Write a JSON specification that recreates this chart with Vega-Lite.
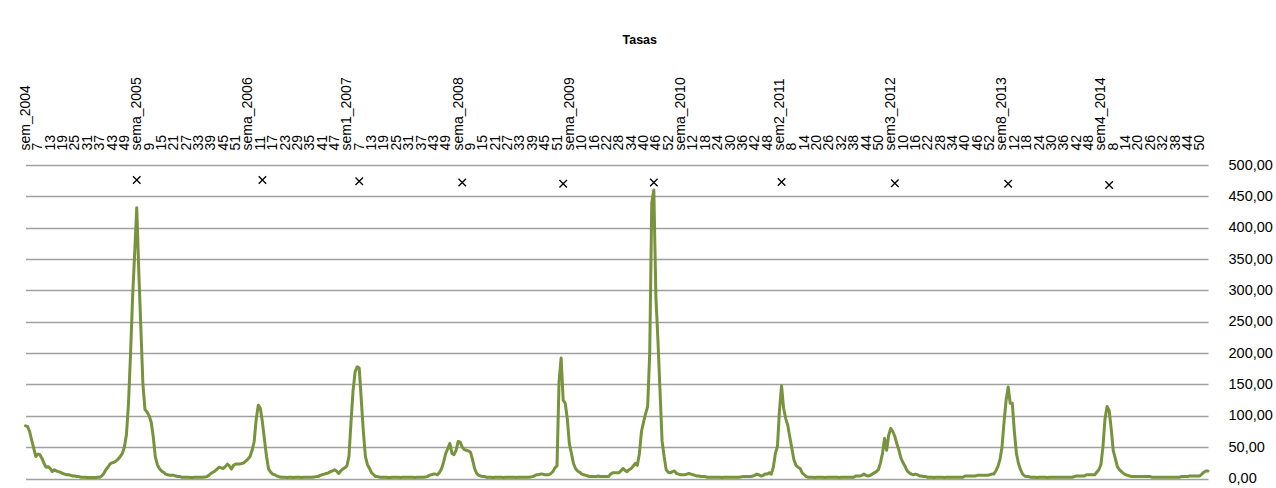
{
  "$schema": "https://vega.github.io/schema/vega-lite/v6.json",
  "autosize": {"type": "none"},
  "padding": {"left": 25.5, "top": 165, "right": 68, "bottom": 9.5},
  "width": 1182.5,
  "height": 313.5,
  "background": "#ffffff",
  "title": {"text": "Tasas", "font": "Liberation Sans", "fontSize": 12.5, "fontWeight": "bold", "color": "#000000", "offset": 30, "dx": 23, "anchor": "middle"},
  "config": {"view": {"stroke": null}},
  "data": {"values": [
{"k":"sem_2004","v":84},{"k":"|1","v":83},{"k":"|2","v":75},{"k":"|3","v":61},{"k":"|4","v":48},{"k":"|5","v":35},
{"k":"7|6","v":39},{"k":"|7","v":38},{"k":"|8","v":32},{"k":"|9","v":24},{"k":"|10","v":18},{"k":"|11","v":19},
{"k":"13|12","v":16},{"k":"|13","v":11},{"k":"|14","v":14},{"k":"|15","v":12},{"k":"|16","v":11},{"k":"|17","v":10},
{"k":"19|18","v":8},{"k":"|19","v":7},{"k":"|20","v":6},{"k":"|21","v":6},{"k":"|22","v":5},{"k":"|23","v":4},
{"k":"25|24","v":4},{"k":"|25","v":3},{"k":"|26","v":3},{"k":"|27","v":2},{"k":"|28","v":2},{"k":"|29","v":2},
{"k":"31|30","v":1.5},{"k":"|31","v":1.5},{"k":"|32","v":1.5},{"k":"|33","v":1.5},{"k":"|34","v":1.5},{"k":"|35","v":2},
{"k":"37|36","v":2},{"k":"|37","v":4},{"k":"|38","v":8},{"k":"|39","v":14},{"k":"|40","v":18},{"k":"|41","v":23},
{"k":"43|42","v":25},{"k":"|43","v":26},{"k":"|44","v":28},{"k":"|45","v":31},{"k":"|46","v":35},{"k":"|47","v":40},
{"k":"49|48","v":50},{"k":"|49","v":70},{"k":"|50","v":120},{"k":"|51","v":200},{"k":"|52","v":290},{"k":"|53","v":360},
{"k":"sema_2005","v":432,"m":476},{"k":"|55","v":330},{"k":"|56","v":240},{"k":"|57","v":150},{"k":"|58","v":110},{"k":"|59","v":106},
{"k":"9|60","v":100},{"k":"|61","v":90},{"k":"|62","v":67},{"k":"|63","v":35},{"k":"|64","v":22},{"k":"|65","v":16},
{"k":"15|66","v":12},{"k":"|67","v":10},{"k":"|68","v":7},{"k":"|69","v":6},{"k":"|70","v":5},{"k":"|71","v":5},
{"k":"21|72","v":5},{"k":"|73","v":4},{"k":"|74","v":3},{"k":"|75","v":3},{"k":"|76","v":2},{"k":"|77","v":2},
{"k":"27|78","v":2},{"k":"|79","v":2},{"k":"|80","v":1.5},{"k":"|81","v":1.5},{"k":"|82","v":2},{"k":"|83","v":2},
{"k":"33|84","v":2},{"k":"|85","v":2},{"k":"|86","v":2},{"k":"|87","v":2.5},{"k":"|88","v":3},{"k":"|89","v":5},
{"k":"39|90","v":8},{"k":"|91","v":10},{"k":"|92","v":12},{"k":"|93","v":15},{"k":"|94","v":18},{"k":"|95","v":17},
{"k":"45|96","v":16},{"k":"|97","v":19},{"k":"|98","v":23},{"k":"|99","v":20},{"k":"|100","v":15},{"k":"|101","v":21},
{"k":"51|102","v":23},{"k":"|103","v":23},{"k":"|104","v":23},{"k":"|105","v":24},{"k":"|106","v":25},{"k":"|107","v":28},
{"k":"sema_2006","v":31},{"k":"|109","v":35},{"k":"|110","v":45},{"k":"|111","v":59},{"k":"|112","v":95},{"k":"|113","v":117},
{"k":"11|114","v":112},{"k":"|115","v":90,"m":476},{"k":"|116","v":62},{"k":"|117","v":35},{"k":"|118","v":15},{"k":"|119","v":10},
{"k":"17|120","v":7},{"k":"|121","v":6},{"k":"|122","v":4},{"k":"|123","v":3},{"k":"|124","v":2},{"k":"|125","v":2},
{"k":"23|126","v":2},{"k":"|127","v":1.5},{"k":"|128","v":2},{"k":"|129","v":2},{"k":"|130","v":1.5},{"k":"|131","v":2},
{"k":"29|132","v":2},{"k":"|133","v":2},{"k":"|134","v":1.5},{"k":"|135","v":2},{"k":"|136","v":2},{"k":"|137","v":2},
{"k":"35|138","v":2},{"k":"|139","v":2},{"k":"|140","v":2.5},{"k":"|141","v":3},{"k":"|142","v":3},{"k":"|143","v":5},
{"k":"41|144","v":6},{"k":"|145","v":7},{"k":"|146","v":8},{"k":"|147","v":9},{"k":"|148","v":11},{"k":"|149","v":12},
{"k":"47|150","v":14},{"k":"|151","v":12},{"k":"|152","v":8},{"k":"|153","v":12},{"k":"|154","v":15},{"k":"|155","v":17},
{"k":"sem1_2007","v":20},{"k":"|157","v":35},{"k":"|158","v":90},{"k":"|159","v":140},{"k":"|160","v":170},{"k":"|161","v":178},
{"k":"7|162","v":176,"m":474},{"k":"|163","v":125},{"k":"|164","v":75},{"k":"|165","v":35},{"k":"|166","v":22},{"k":"|167","v":16},
{"k":"13|168","v":9},{"k":"|169","v":6},{"k":"|170","v":3},{"k":"|171","v":3},{"k":"|172","v":2},{"k":"|173","v":2},
{"k":"19|174","v":2},{"k":"|175","v":2},{"k":"|176","v":1.5},{"k":"|177","v":1.5},{"k":"|178","v":2},{"k":"|179","v":2},
{"k":"25|180","v":2},{"k":"|181","v":2},{"k":"|182","v":1.5},{"k":"|183","v":2},{"k":"|184","v":2},{"k":"|185","v":2},
{"k":"31|186","v":2},{"k":"|187","v":2},{"k":"|188","v":2},{"k":"|189","v":1.5},{"k":"|190","v":2},{"k":"|191","v":2},
{"k":"37|192","v":2},{"k":"|193","v":2},{"k":"|194","v":2.5},{"k":"|195","v":3},{"k":"|196","v":5},{"k":"|197","v":6},
{"k":"43|198","v":7},{"k":"|199","v":7},{"k":"|200","v":6},{"k":"|201","v":10},{"k":"|202","v":16},{"k":"|203","v":27},
{"k":"49|204","v":40},{"k":"|205","v":48},{"k":"|206","v":56},{"k":"|207","v":40},{"k":"|208","v":38},{"k":"|209","v":45},
{"k":"sema_2008","v":59},{"k":"|211","v":58},{"k":"|212","v":50,"m":472},{"k":"|213","v":46},{"k":"|214","v":45},{"k":"|215","v":44},
{"k":"9|216","v":42},{"k":"|217","v":30},{"k":"|218","v":16},{"k":"|219","v":8},{"k":"|220","v":5},{"k":"|221","v":4},
{"k":"15|222","v":3},{"k":"|223","v":3},{"k":"|224","v":2},{"k":"|225","v":2},{"k":"|226","v":2},{"k":"|227","v":1.5},
{"k":"21|228","v":2},{"k":"|229","v":2},{"k":"|230","v":2},{"k":"|231","v":2},{"k":"|232","v":1.5},{"k":"|233","v":2},
{"k":"27|234","v":2},{"k":"|235","v":2},{"k":"|236","v":2},{"k":"|237","v":2},{"k":"|238","v":1.5},{"k":"|239","v":2},
{"k":"33|240","v":2},{"k":"|241","v":2},{"k":"|242","v":2},{"k":"|243","v":2},{"k":"|244","v":2},{"k":"|245","v":2.5},
{"k":"39|246","v":3},{"k":"|247","v":4},{"k":"|248","v":6},{"k":"|249","v":6},{"k":"|250","v":7},{"k":"|251","v":7},
{"k":"45|252","v":6},{"k":"|253","v":6},{"k":"|254","v":6},{"k":"|255","v":8},{"k":"|256","v":11},{"k":"|257","v":17},
{"k":"51|258","v":20},{"k":"|259","v":155},{"k":"|260","v":192},{"k":"|261","v":125,"m":470},{"k":"|262","v":120},{"k":"|263","v":95},
{"k":"sema_2009","v":55},{"k":"|265","v":40},{"k":"|266","v":24},{"k":"|267","v":16},{"k":"|268","v":12},{"k":"|269","v":10},
{"k":"10|270","v":7},{"k":"|271","v":6},{"k":"|272","v":5},{"k":"|273","v":4},{"k":"|274","v":3},{"k":"|275","v":3},
{"k":"16|276","v":3},{"k":"|277","v":3},{"k":"|278","v":4},{"k":"|279","v":3},{"k":"|280","v":3},{"k":"|281","v":3},
{"k":"22|282","v":3},{"k":"|283","v":3},{"k":"|284","v":7},{"k":"|285","v":9},{"k":"|286","v":9},{"k":"|287","v":9},
{"k":"28|288","v":9},{"k":"|289","v":12},{"k":"|290","v":16},{"k":"|291","v":13},{"k":"|292","v":11},{"k":"|293","v":14},
{"k":"34|294","v":16},{"k":"|295","v":20},{"k":"|296","v":24},{"k":"|297","v":21},{"k":"|298","v":40},{"k":"|299","v":75},
{"k":"40|300","v":90},{"k":"|301","v":103},{"k":"|302","v":115},{"k":"|303","v":200},{"k":"|304","v":440},{"k":"|305","v":460,"m":472},
{"k":"46|306","v":290},{"k":"|307","v":220},{"k":"|308","v":140},{"k":"|309","v":60},{"k":"|310","v":35},{"k":"|311","v":14},
{"k":"52|312","v":10},{"k":"|313","v":9},{"k":"|314","v":11},{"k":"|315","v":12},{"k":"|316","v":8},{"k":"|317","v":7},
{"k":"sema_2010","v":6},{"k":"|319","v":6},{"k":"|320","v":6},{"k":"|321","v":7},{"k":"|322","v":8},{"k":"|323","v":7},
{"k":"12|324","v":6},{"k":"|325","v":5},{"k":"|326","v":4},{"k":"|327","v":4},{"k":"|328","v":3},{"k":"|329","v":3},
{"k":"18|330","v":3},{"k":"|331","v":2},{"k":"|332","v":2},{"k":"|333","v":2},{"k":"|334","v":2},{"k":"|335","v":2},
{"k":"24|336","v":2},{"k":"|337","v":2},{"k":"|338","v":1.5},{"k":"|339","v":2},{"k":"|340","v":2},{"k":"|341","v":2},
{"k":"30|342","v":2},{"k":"|343","v":2},{"k":"|344","v":2},{"k":"|345","v":2},{"k":"|346","v":2},{"k":"|347","v":2.5},
{"k":"36|348","v":3},{"k":"|349","v":3},{"k":"|350","v":3},{"k":"|351","v":3},{"k":"|352","v":3},{"k":"|353","v":4},
{"k":"42|354","v":5},{"k":"|355","v":7},{"k":"|356","v":6},{"k":"|357","v":4},{"k":"|358","v":5},{"k":"|359","v":7},
{"k":"48|360","v":7},{"k":"|361","v":9},{"k":"|362","v":7},{"k":"|363","v":18},{"k":"|364","v":40},{"k":"|365","v":51},
{"k":"sem2_2011","v":109},{"k":"|367","v":148,"m":473},{"k":"|368","v":112},{"k":"|369","v":96},{"k":"|370","v":85},{"k":"|371","v":66},
{"k":"8|372","v":48},{"k":"|373","v":30},{"k":"|374","v":21},{"k":"|375","v":18},{"k":"|376","v":16},{"k":"|377","v":9},
{"k":"14|378","v":6},{"k":"|379","v":3},{"k":"|380","v":2},{"k":"|381","v":2},{"k":"|382","v":2},{"k":"|383","v":1.5},
{"k":"20|384","v":2},{"k":"|385","v":2},{"k":"|386","v":2},{"k":"|387","v":2},{"k":"|388","v":1.5},{"k":"|389","v":2},
{"k":"26|390","v":2},{"k":"|391","v":2},{"k":"|392","v":2},{"k":"|393","v":2},{"k":"|394","v":2},{"k":"|395","v":1.5},
{"k":"32|396","v":2},{"k":"|397","v":2},{"k":"|398","v":2},{"k":"|399","v":2},{"k":"|400","v":2},{"k":"|401","v":2},
{"k":"38|402","v":2},{"k":"|403","v":4},{"k":"|404","v":4},{"k":"|405","v":4},{"k":"|406","v":5},{"k":"|407","v":7},
{"k":"44|408","v":5},{"k":"|409","v":4},{"k":"|410","v":5},{"k":"|411","v":7},{"k":"|412","v":9},{"k":"|413","v":11},
{"k":"50|414","v":14},{"k":"|415","v":25},{"k":"|416","v":40},{"k":"|417","v":64},{"k":"|418","v":45},{"k":"|419","v":69},
{"k":"sem3_2012","v":80},{"k":"|421","v":75},{"k":"|422","v":67,"m":471},{"k":"|423","v":55},{"k":"|424","v":45},{"k":"|425","v":32},
{"k":"10|426","v":25},{"k":"|427","v":19},{"k":"|428","v":12},{"k":"|429","v":9},{"k":"|430","v":7},{"k":"|431","v":6},
{"k":"16|432","v":7},{"k":"|433","v":6},{"k":"|434","v":4},{"k":"|435","v":4},{"k":"|436","v":3},{"k":"|437","v":3},
{"k":"22|438","v":2},{"k":"|439","v":2},{"k":"|440","v":2},{"k":"|441","v":1.5},{"k":"|442","v":2},{"k":"|443","v":2},
{"k":"28|444","v":2},{"k":"|445","v":2},{"k":"|446","v":1.5},{"k":"|447","v":2},{"k":"|448","v":2},{"k":"|449","v":2},
{"k":"34|450","v":2},{"k":"|451","v":2},{"k":"|452","v":2},{"k":"|453","v":2},{"k":"|454","v":2},{"k":"|455","v":2},
{"k":"40|456","v":4},{"k":"|457","v":4},{"k":"|458","v":4},{"k":"|459","v":4},{"k":"|460","v":4},{"k":"|461","v":4},
{"k":"46|462","v":5},{"k":"|463","v":5},{"k":"|464","v":5},{"k":"|465","v":5},{"k":"|466","v":5},{"k":"|467","v":5},
{"k":"52|468","v":6},{"k":"|469","v":7},{"k":"|470","v":7},{"k":"|471","v":12},{"k":"|472","v":19},{"k":"|473","v":30},
{"k":"sem8_2013","v":50},{"k":"|475","v":90},{"k":"|476","v":125},{"k":"|477","v":146,"m":470},{"k":"|478","v":120},{"k":"|479","v":120},
{"k":"12|480","v":75},{"k":"|481","v":40},{"k":"|482","v":24},{"k":"|483","v":14},{"k":"|484","v":7},{"k":"|485","v":4},
{"k":"18|486","v":3},{"k":"|487","v":3},{"k":"|488","v":2},{"k":"|489","v":2},{"k":"|490","v":2},{"k":"|491","v":1.5},
{"k":"24|492","v":2},{"k":"|493","v":2},{"k":"|494","v":2},{"k":"|495","v":2},{"k":"|496","v":1.5},{"k":"|497","v":2},
{"k":"30|498","v":2},{"k":"|499","v":2},{"k":"|500","v":2},{"k":"|501","v":2},{"k":"|502","v":2},{"k":"|503","v":2},
{"k":"36|504","v":2},{"k":"|505","v":2},{"k":"|506","v":2},{"k":"|507","v":2},{"k":"|508","v":2},{"k":"|509","v":3},
{"k":"42|510","v":4},{"k":"|511","v":4},{"k":"|512","v":4},{"k":"|513","v":4},{"k":"|514","v":4},{"k":"|515","v":6},
{"k":"48|516","v":6},{"k":"|517","v":6},{"k":"|518","v":6},{"k":"|519","v":6},{"k":"|520","v":10},{"k":"|521","v":14},
{"k":"sem4_2014","v":22},{"k":"|523","v":50},{"k":"|524","v":95},{"k":"|525","v":115},{"k":"|526","v":109,"m":468},{"k":"|527","v":80},
{"k":"8|528","v":45},{"k":"|529","v":32},{"k":"|530","v":19},{"k":"|531","v":14},{"k":"|532","v":11},{"k":"|533","v":8},
{"k":"14|534","v":6},{"k":"|535","v":5},{"k":"|536","v":4},{"k":"|537","v":3},{"k":"|538","v":3},{"k":"|539","v":3},
{"k":"20|540","v":3},{"k":"|541","v":3},{"k":"|542","v":3},{"k":"|543","v":3},{"k":"|544","v":3},{"k":"|545","v":3},
{"k":"26|546","v":3},{"k":"|547","v":2},{"k":"|548","v":2},{"k":"|549","v":2},{"k":"|550","v":2},{"k":"|551","v":2},
{"k":"32|552","v":2},{"k":"|553","v":2},{"k":"|554","v":2},{"k":"|555","v":2},{"k":"|556","v":2},{"k":"|557","v":2},
{"k":"38|558","v":2},{"k":"|559","v":2},{"k":"|560","v":2},{"k":"|561","v":3},{"k":"|562","v":3},{"k":"|563","v":3},
{"k":"44|564","v":3},{"k":"|565","v":4},{"k":"|566","v":4},{"k":"|567","v":4},{"k":"|568","v":4},{"k":"|569","v":4},
{"k":"50|570","v":4},{"k":"|571","v":7},{"k":"|572","v":10},{"k":"|573","v":12},{"k":"|574","v":12}
  ]},
  "encoding": {
    "x": {
      "field": "k", "type": "ordinal", "sort": null,
      "scale": {"type": "point", "padding": 0},
      "axis": {
        "orient": "top", "title": null, "ticks": false, "domain": false, "grid": false,
        "labelAngle": 270, "labelAlign": "left", "labelBaseline": "middle",
        "labelPadding": 15, "labelOverlap": false, "labelFont": "Liberation Sans", "labelFontSize": 14,
        "labelColor": "#000000", "labelBound": false, "labelFlush": false,
        "labelExpr": "slice(datum.label, 0, indexof(datum.label + '|', '|'))"
      }
    }
  },
  "layer": [
    {
      "mark": {"type": "line", "color": "#77933C", "strokeWidth": 3, "strokeJoin": "round", "strokeCap": "round"},
      "encoding": {
        "y": {
          "field": "v", "type": "quantitative",
          "scale": {"domain": [0, 500], "nice": false, "zero": true},
          "axis": {
            "orient": "right", "title": null, "values": [0,50,100,150,200,250,300,350,400,450,500],
            "grid": true, "gridColor": "#a0a0a0", "gridWidth": 1.3, "ticks": false, "domain": false,
            "labelOverlap": false, "labelPadding": 20, "labelFont": "Liberation Sans", "labelFontSize": 14.5, "labelColor": "#000000",
            "labelExpr": "replace(format(datum.value, '.2f'), '.', ',')"
          }
        }
      }
    },
    {
      "mark": {"type": "point", "shape": "M-1,-1L1,1M1,-1L-1,1", "size": 56, "stroke": "#000000", "strokeWidth": 1.3, "filled": false, "opacity": 1},
      "encoding": {
        "y": {
          "field": "m", "type": "quantitative",
          "scale": {"domain": [0, 500], "nice": false, "zero": true},
          "axis": {
            "orient": "right", "title": null, "values": [0,50,100,150,200,250,300,350,400,450,500],
            "grid": true, "gridColor": "#a0a0a0", "gridWidth": 1.3, "ticks": false, "domain": false,
            "labelOverlap": false, "labelPadding": 20, "labelFont": "Liberation Sans", "labelFontSize": 14.5, "labelColor": "#000000",
            "labelExpr": "replace(format(datum.value, '.2f'), '.', ',')"
          }
        }
      }
    }
  ]
}
